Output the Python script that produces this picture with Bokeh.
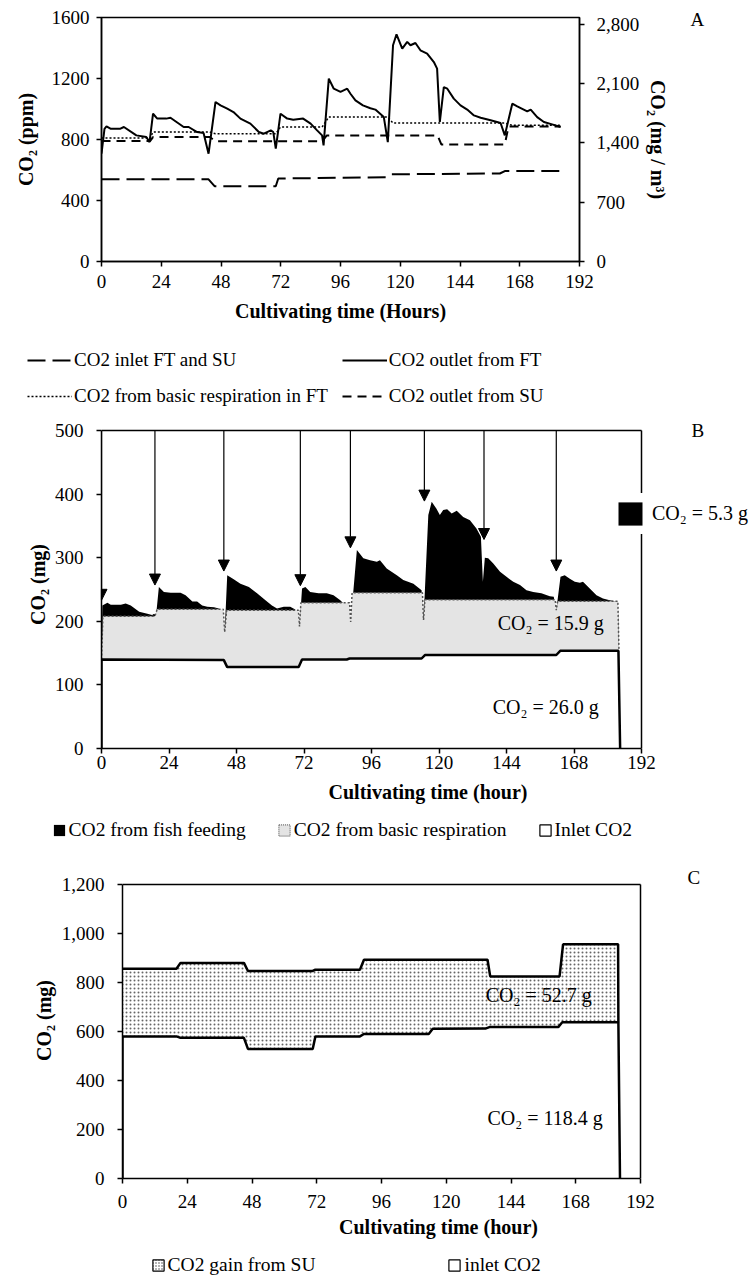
from bokeh.plotting import figure
from bokeh.models import (Range1d, LinearAxis, FixedTicker, NumeralTickFormatter, Legend,
                          LegendItem, Label, Arrow, NormalHead, ColumnDataSource)
from bokeh.embed import file_html
from bokeh.resources import INLINE

FONT = "Liberation Serif"

# ---------------- data ----------------
hour_ticks = [0, 24, 48, 72, 96, 120, 144, 168, 192]

# Panel A (ppm)
a_ppm_ticks = [0, 400, 800, 1200, 1600]
a_mg_ticks = [0, 700, 1400, 2100, 2800]

tA_out = [0, 1.2, 2, 3.6, 7.6, 9, 14, 18, 19.3, 20.7,
          22.4, 26, 27.7, 33, 35, 38.4, 41, 43, 45.8, 47.8,
          50.5, 53, 55.8, 59.8, 63.2, 65.2, 68, 69, 70, 71.9,
          74.6, 77, 81, 84, 86.6, 88.6, 89.2, 91.3, 93.3, 96,
          98.7, 100, 102, 105, 108, 110, 113.4, 115, 117.1, 118.5,
          120.8, 122.8, 124.1, 126.1, 128.1, 130.8, 133.5, 134.8, 135.9, 137.5,
          138.9, 141.5, 144.2, 146.9, 149.6, 152.3, 156.3, 160.3, 162, 165,
          167, 171, 172.4, 175, 177.7, 181, 184.4]
vA_out = [707, 870, 886, 871, 871, 882, 827, 816, 783, 969,
          937, 937, 943, 882, 882, 849, 842, 707, 1046, 1024,
          1002, 980, 937, 904, 849, 838, 860, 849, 740, 969,
          937, 930, 937, 904, 860, 827, 761, 1199, 1133, 1112,
          1133, 1100, 1057, 1024, 1005, 996, 947, 783, 1418, 1490,
          1396, 1440, 1418, 1433, 1385, 1363, 1308, 1265, 915, 1144,
          1133, 1068, 1024, 996, 958, 943, 926, 908, 827, 1035,
          1017, 985, 996, 947, 915, 899, 882]

tA_bas = [0, 19.5, 20.7, 43.5, 45.8, 70, 71.9, 88.6, 91.3, 115, 117.1, 162, 165, 184.4]
vA_bas = [810, 810, 849, 849, 838, 838, 882, 882, 947, 947, 908, 908, 893, 893]

tA_su = [0, 19.5, 20.7, 43.5, 45.8, 88.6, 90.5, 135, 136.5, 162, 163.5, 184.4]
vA_su = [790, 790, 816, 816, 788, 788, 827, 827, 768, 768, 886, 886]

tA_in = [0, 43, 45.5, 70, 71, 114.5, 116.5, 160, 162, 184.4]
vA_in = [539, 539, 493, 493, 544, 553, 572, 577, 593, 593]

# Panel B (mg)
b_ticks = [0, 100, 200, 300, 400, 500]
tB_out = [0, 0.3, 2.1, 3.3, 6.9, 8.6, 10.4, 13.4, 16.3, 18,
          18.7, 19.4, 20.4, 22.2, 24.6, 28.1, 29.9, 32.3, 34, 35.8,
          37.6, 40, 41.7, 43.8, 44.7, 47, 49.4, 52.4, 55.3, 58.3,
          60.6, 62.4, 64.8, 67.1, 68.9, 70.4, 71.3, 72.5, 74.2, 77.2,
          80.1, 82.5, 84.9, 87.2, 88.6, 90.8, 93.1, 95.5, 97.9, 99,
          101.4, 105, 107.3, 110.9, 113.8, 114.5, 116.2, 117.4, 119.1, 120.3,
          121.5, 122.9, 124.5, 126.3, 128.6, 131, 133.3, 134.9, 135.6, 136.3,
          137.5, 139.3, 141.7, 144, 146.4, 148.8, 151.1, 153.5, 156.4, 159.4,
          160.8, 161.7, 163.2, 164.7, 166.5, 168.3, 170.1, 171.2, 173.6, 176,
          178.3, 180.7, 183.6, 184]
vB_out = [140, 225, 229, 226, 226, 228, 225, 215, 212, 210,
          212, 209, 254, 246, 245, 245, 241, 231, 231, 225,
          223, 222, 220, 183, 272.5, 266, 259, 254, 244, 233,
          225, 220, 223, 223, 218.5, 192, 251.6, 254, 246, 244,
          244, 241, 233, 223, 199, 312, 299, 296, 293.5, 296,
          283, 272.5, 265, 259, 249, 202, 367, 388, 377, 367,
          375, 376, 369.5, 373.7, 364, 359, 346, 333, 262, 300,
          299, 291, 278, 270, 262, 257, 249, 246, 244, 239.5,
          238.5, 217.5, 270, 272.5, 267, 262, 260.5, 262, 251.6, 241,
          236, 233, 230.6, 153.5]

tB_resp = [0, 0.5, 19, 19.8, 43.3, 43.8, 44.5, 70, 70.4, 70.9, 88.2, 88.6, 89.1,
           114.1, 114.5, 115, 161.3, 161.7, 162.2, 183.6, 184]
vB_resp = [140, 208, 208, 219, 219, 183, 217.5, 217.5, 192, 229, 229, 199, 245,
           245, 202, 234, 234, 217.5, 231.5, 231.5, 153.5]

tB_in = [0, 0, 43.5, 44.7, 70.1, 71.3, 87.2, 88.2, 113.8, 115, 161.7, 163.1, 183.8, 184.4]
vB_in = [0, 140, 139, 128, 128, 140, 140, 141.5, 141.5, 147, 147, 153.5, 153.5, 0]

feed_t = [0, 19, 43.5, 70.7, 88.5, 114.8, 136, 161.7]
feed_tip = [233, 257, 279, 256, 315.5, 389, 328.6, 279]

# Panel C (mg)
c_ticks = [0, 200, 400, 600, 800, 1000, 1200]
tC_top = [0, 20, 21.5, 45, 46.5, 70.5, 71.5, 88, 89.5, 135.3, 136.3, 162, 163.3, 183.7, 183.8]
vC_top = [856, 856, 880, 880, 847, 847, 852, 852, 893, 893, 825, 825, 956, 956, 638]
tC_in = [0, 0, 20, 21.5, 45, 46.5, 70.5, 71.5, 88, 89.5, 113.5, 115, 134.5, 136, 161.5, 163, 183.8, 184.4]
vC_in = [0, 580, 580, 574, 574, 529, 529, 580, 580, 590, 590, 611, 612, 618, 618, 638, 638, 0]


# ---------------- helpers ----------------
def style_axis(ax):
    ax.axis_line_color = "black"
    ax.axis_line_width = 1.5
    ax.major_tick_line_color = "black"
    ax.major_tick_line_width = 1.5
    ax.major_tick_in = 0
    ax.major_tick_out = 5
    ax.minor_tick_line_color = None
    ax.major_label_text_font = FONT
    ax.major_label_text_font_size = "19px"
    ax.major_label_text_color = "black"
    ax.axis_label_text_font = FONT
    ax.axis_label_text_font_size = "20px"
    ax.axis_label_text_font_style = "bold"
    ax.axis_label_text_color = "black"


def clean(p):
    p.grid.visible = False
    p.outline_line_color = None
    p.background_fill_color = "white"
    p.border_fill_color = "white"
    return p


def key_fig(w, h, x0, y_top):
    # plain panel whose frame fills it (page pixel coordinates), for the keys
    p = figure(width=w, height=h, x_range=Range1d(x0, x0 + w), y_range=Range1d(y_top + h, y_top),
               output_backend="svg", toolbar_location=None, x_axis_location=None,
               y_axis_location=None, min_border=0)
    return clean(p)


def dummy_quad(p, **kw):
    return p.quad(left=[-9e6], right=[-8e6], bottom=[-9e6], top=[-8e6], **kw)


def dummy_line(p, **kw):
    return p.line([-9e6, -8e6], [-9e6, -8e6], **kw)


def key(items, location, **kw):
    opts = dict(padding=0, margin=0, background_fill_alpha=0, border_line_alpha=0,
                label_text_font=FONT, label_text_font_size="19px", label_text_color="black")
    opts.update(kw)
    return Legend(items=items, location=location, **opts)


def txt(x, y, text, size="20px", align="left"):
    return Label(x=x, y=y, text=text, text_font=FONT, text_font_size=size, text_color="black",
                 text_align=align, text_baseline="middle")


# ---------------- Panel A ----------------
pA = clean(figure(width=754, height=330, x_range=Range1d(0, 192), y_range=Range1d(0, 1600),
                  output_backend="svg", toolbar_location=None,
                  min_border_left=101, min_border_right=175, min_border_top=17,
                  min_border_bottom=69))
pA.outline_line_color = "black"
pA.outline_line_width = 1.5
pA.extra_y_ranges = {"mg": Range1d(0, 2880)}
pA.xaxis.ticker = FixedTicker(ticks=hour_ticks)
pA.yaxis.ticker = FixedTicker(ticks=a_ppm_ticks)
pA.xaxis.axis_label = "Cultivating time (Hours)"
pA.yaxis.axis_label = "CO₂ (ppm)"
axA_r = LinearAxis(y_range_name="mg", ticker=FixedTicker(ticks=a_mg_ticks),
                   formatter=NumeralTickFormatter(format="0,0"), axis_label="CO₂ (mg / m³)")
pA.add_layout(axA_r, "right")
for ax in [pA.xaxis[0], pA.yaxis[0], axA_r]:
    style_axis(ax)
pA.yaxis[0].major_label_standoff = 7
pA.yaxis[0].axis_label_standoff = 12
pA.xaxis[0].major_label_standoff = 8
pA.xaxis[0].axis_label_standoff = 9
axA_r.major_label_standoff = 12
axA_r.axis_label_standoff = 5

# panel letter "A", carried by an extra right-hand axis with a single labelled tick
a_letter_pos = 1589
axA_letter = LinearAxis(ticker=FixedTicker(ticks=[a_letter_pos]),
                        major_label_overrides={a_letter_pos: "A"})
style_axis(axA_letter)
axA_letter.axis_line_color = None
axA_letter.major_tick_line_color = None
axA_letter.major_tick_out = 0
axA_letter.major_label_standoff = 18
pA.add_layout(axA_letter, "right")

pA.line(tA_in, vA_in, line_color="black", line_width=2, line_dash="18 7")
pA.line(tA_su, vA_su, line_color="black", line_width=2, line_dash="9 6")
pA.line(tA_bas, vA_bas, line_color="black", line_width=1.5, line_dash="2 2")
pA.line(tA_out, vA_out, line_color="black", line_width=2)

# key of panel A
kA = key_fig(754, 90, 0, 330)
kA_in = dummy_line(kA, line_color="black", line_width=2, line_dash="18 7")
kA_su = dummy_line(kA, line_color="black", line_width=2, line_dash="9 6")
kA_bas = dummy_line(kA, line_color="black", line_width=1.5, line_dash="2 2")
kA_out = dummy_line(kA, line_color="black", line_width=2)
kA.add_layout(key([LegendItem(label="CO2 inlet FT and SU", renderers=[kA_in]),
                   LegendItem(label="CO2 from basic respiration in FT", renderers=[kA_bas]),
                   LegendItem(label="CO2 outlet from FT", renderers=[kA_out]),
                   LegendItem(label="CO2 outlet from SU", renderers=[kA_su])],
                  (27, 13.5), orientation="vertical", nrows=2,
                  glyph_width=45, glyph_height=20, label_standoff=2, spacing=14))

# ---------------- Panel B ----------------
B_W, B_H = 754, 395
B_L, B_TOP, B_BOT = 101, 0, 67
b_frame_w = B_W - B_L
b_frame_h = B_H - B_TOP - B_BOT
pB = clean(figure(width=B_W, height=B_H,
                  x_range=Range1d(0, 192 * b_frame_w / 540),
                  y_range=Range1d(0, 500 * b_frame_h / 318),
                  output_backend="svg", toolbar_location=None,
                  min_border_left=B_L, min_border_right=0, min_border_top=B_TOP,
                  min_border_bottom=B_BOT))
pB.xaxis.ticker = FixedTicker(ticks=hour_ticks)
pB.yaxis.ticker = FixedTicker(ticks=b_ticks)
pB.xaxis.bounds = (hour_ticks[0], hour_ticks[-1])
pB.yaxis.bounds = (b_ticks[0], b_ticks[-1])
pB.xaxis.axis_label = "Cultivating time (hour)"
pB.yaxis.axis_label = "CO₂ (mg)"
for ax in [pB.xaxis[0], pB.yaxis[0]]:
    style_axis(ax)
pB.yaxis[0].major_label_standoff = 13
pB.yaxis[0].axis_label_standoff = 3
pB.xaxis[0].major_label_standoff = 2
pB.xaxis[0].axis_label_standoff = 9

pB.varea(x=tB_out, y1=0, y2=vB_out, fill_color="black")
pB.varea(x=tB_resp, y1=0, y2=vB_resp, fill_color="#e4e4e4")
pB.varea(x=tB_in, y1=0, y2=vB_in, fill_color="white")
pB.line(tB_resp, vB_resp, line_color="#555555", line_width=1.5, line_dash="2 2")
pB.line(tB_in, vB_in, line_color="black", line_width=2.5)
# plot-area box (top and right edges)
pB.line([hour_ticks[0], hour_ticks[-1]], [b_ticks[-1], b_ticks[-1]], line_color="black", line_width=1.5)
pB.line([hour_ticks[-1], hour_ticks[-1]], [b_ticks[0], b_ticks[-1]], line_color="black", line_width=1.5)

arr_src = ColumnDataSource(dict(x=feed_t, ys=[b_ticks[-1]] * len(feed_t), ye=feed_tip))
pB.add_layout(Arrow(end=NormalHead(size=11, fill_color="black", line_color="black"),
                    x_start="x", y_start="ys", x_end="x", y_end="ye", source=arr_src,
                    line_color="black", line_width=1.2))

dB_feed = dummy_quad(pB, fill_color="black", line_color=None)
pB.add_layout(key([LegendItem(label="", renderers=[dB_feed])], (508.3, 214.3),
                  glyph_width=30, glyph_height=29, label_standoff=0, label_width=0,
                  padding=6, background_fill_color="white", background_fill_alpha=1))
pB.add_layout(txt(195.7, 370, "CO₂ = 5.3 g"))
pB.add_layout(txt(212.0, 500.5, "B", size="19px", align="center"))
pB.add_layout(txt(140.9, 197, "CO₂ = 15.9 g"))
pB.add_layout(txt(139.1, 65, "CO₂ = 26.0 g"))

# key of panel B
kB = key_fig(754, 35, 0, 815)
kB_feed = dummy_quad(kB, fill_color="black", line_color=None)
kB_resp = dummy_quad(kB, fill_color="#e4e4e4", line_color="#444444", line_dash="1 1", line_width=1)
kB_in = dummy_quad(kB, fill_color="white", line_color="black", line_width=1.2)
kB.add_layout(key([LegendItem(label="CO2 from fish feeding", renderers=[kB_feed]),
                   LegendItem(label="CO2 from basic respiration", renderers=[kB_resp]),
                   LegendItem(label="Inlet CO2", renderers=[kB_in])],
                  (51.6, 9.5), orientation="horizontal",
                  glyph_width=14, glyph_height=14, label_standoff=3, spacing=31,
                  label_text_font_size="19.5px"))

# ---------------- Panel C ----------------
C_W, C_H = 754, 398
C_L, C_TOP, C_BOT = 122, 12, 70
c_frame_w = C_W - C_L
c_frame_h = C_H - C_TOP - C_BOT
pC = clean(figure(width=C_W, height=C_H,
                  x_range=Range1d(0, 192 * c_frame_w / 518),
                  y_range=Range1d(0, 1200 * c_frame_h / 294),
                  output_backend="svg", toolbar_location=None,
                  min_border_left=C_L, min_border_right=0, min_border_top=C_TOP,
                  min_border_bottom=C_BOT))
pC.xaxis.ticker = FixedTicker(ticks=hour_ticks)
pC.yaxis.ticker = FixedTicker(ticks=c_ticks)
pC.xaxis.bounds = (hour_ticks[0], hour_ticks[-1])
pC.yaxis.bounds = (c_ticks[0], c_ticks[-1])
pC.yaxis.formatter = NumeralTickFormatter(format="0,0")
pC.xaxis.axis_label = "Cultivating time (hour)"
pC.yaxis.axis_label = "CO₂ (mg)"
for ax in [pC.xaxis[0], pC.yaxis[0]]:
    style_axis(ax)
pC.yaxis[0].major_label_standoff = 13
pC.yaxis[0].axis_label_standoff = 4
pC.xaxis[0].major_label_standoff = 11
pC.xaxis[0].axis_label_standoff = 5

pC.varea(x=tC_top, y1=0, y2=vC_top, fill_color="white", hatch_pattern="dot",
         hatch_color="#666666", hatch_scale=4, hatch_weight=1)
pC.varea(x=tC_in, y1=0, y2=vC_in, fill_color="white")
pC.line(tC_top, vC_top, line_color="black", line_width=2.5)
pC.line(tC_in, vC_in, line_color="black", line_width=2.5)
pC.line([hour_ticks[0], hour_ticks[-1]], [c_ticks[-1], c_ticks[-1]], line_color="black", line_width=1.5)
pC.line([hour_ticks[-1], hour_ticks[-1]], [c_ticks[0], c_ticks[-1]], line_color="black", line_width=1.5)
pC.add_layout(txt(211.75, 1229.8, "C", size="19px", align="center"))
pC.add_layout(txt(134.6, 747, "CO₂ = 52.7 g"))
pC.add_layout(txt(135.3, 248, "CO₂ = 118.4 g"))

# key of panel C
kC = key_fig(754, 29, 0, 1248)
kC_su = dummy_quad(kC, fill_color="white", hatch_pattern="dot", hatch_color="#444444",
                   hatch_scale=3, hatch_weight=1, line_color="black", line_width=1.2)
kC_in = dummy_quad(kC, fill_color="white", line_color="black", line_width=1.2)
kC.add_layout(key([LegendItem(label="CO2 gain from SU", renderers=[kC_su]),
                   LegendItem(label="inlet CO2", renderers=[kC_in])],
                  (150.6, 1.5), orientation="horizontal",
                  glyph_width=14, glyph_height=14, label_standoff=3, spacing=132,
                  label_text_font_size="19.5px"))

# separate roots stacked top to bottom (keeps each plot's own borders)
open("out.html", "w").write(file_html([pA, kA, pB, kB, pC, kC], INLINE))
